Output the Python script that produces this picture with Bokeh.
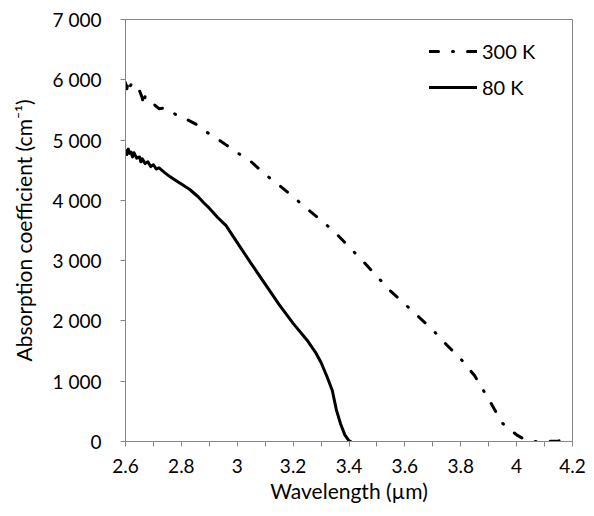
from bokeh.plotting import figure
from bokeh.models import FixedTicker, Range1d, Legend, LegendItem
from bokeh.embed import file_html
from bokeh.resources import INLINE

# 300 K series (wavelength in µm, absorption coefficient in cm^-1)
wl_300 = [2.600, 2.605, 2.610, 2.615, 2.620, 2.630, 2.640, 2.650, 2.660, 2.665,
          2.670, 2.680, 2.690, 2.700, 2.710, 2.720, 2.740, 2.760, 2.780, 2.800,
          2.820, 2.850, 2.880, 2.920, 2.960, 3.000, 3.050, 3.100, 3.150, 3.200,
          3.250, 3.300, 3.350, 3.400, 3.450, 3.500, 3.550, 3.600, 3.650, 3.700,
          3.750, 3.800, 3.850, 3.900, 3.950, 4.000, 4.030, 4.050, 4.100, 4.150,
          4.200]
abs_300 = [5950, 5850, 5990, 5880, 5920, 5870, 5900, 5820, 5700, 5570,
           5720, 5700, 5690, 5600, 5560, 5520, 5530, 5500, 5420, 5370,
           5340, 5270, 5160, 5050, 4920, 4790, 4640, 4430, 4250, 4060,
           3860, 3670, 3470, 3230, 2990, 2740, 2490, 2280, 2065, 1850,
           1600, 1370, 1090, 700, 300, 110, 30, 0, 0, 10,
           50]

# 80 K series
wl_80 = [2.600, 2.605, 2.610, 2.615, 2.620, 2.625, 2.630, 2.640, 2.650, 2.655,
         2.660, 2.670, 2.680, 2.690, 2.700, 2.710, 2.720, 2.740, 2.760, 2.780,
         2.800, 2.830, 2.860, 2.880, 2.900, 2.930, 2.960, 3.000, 3.050, 3.100,
         3.150, 3.200, 3.250, 3.280, 3.300, 3.320, 3.340, 3.355, 3.370, 3.385,
         3.400, 3.405]
abs_80 = [4830, 4760, 4850, 4780, 4800, 4720, 4790, 4700, 4720, 4640,
          4690, 4610, 4640, 4560, 4590, 4520, 4540, 4460, 4390, 4330,
          4270, 4180, 4060, 3960, 3870, 3715, 3580, 3300, 2950, 2610,
          2270, 1960, 1680, 1480, 1310, 1090, 850, 520, 290, 110,
          10, 0]

x_ticks = [2.6, 2.8, 3.0, 3.2, 3.4, 3.6, 3.8, 4.0, 4.2]
x_minor = [2.7, 2.9, 3.1, 3.3, 3.5, 3.7, 3.9, 4.1]
x_labels = ["2.6", "2.8", "3", "3.2", "3.4", "3.6", "3.8", "4", "4.2"]
y_ticks = [0, 1000, 2000, 3000, 4000, 5000, 6000, 7000]
y_labels = ["0", "1 000", "2 000", "3 000", "4 000", "5 000", "6 000", "7 000"]
series_names = ["300 K", "80 K"]

FONT = "Lato"
GREY = "#868686"

p = figure(width=586, height=508, output_backend="svg", toolbar_location=None,
           x_range=Range1d(2.6, 4.2), y_range=Range1d(0, 7000),
           min_border_left=125, min_border_right=14, min_border_top=19,
           min_border_bottom=67)
p.grid.visible = False
p.outline_line_color = GREY
p.outline_line_width = 1
p.background_fill_color = "white"
p.border_fill_color = "white"

xa = p.xaxis[0]
xa.ticker = FixedTicker(ticks=x_ticks, minor_ticks=x_minor)
xa.major_label_overrides = {t: l for t, l in zip(x_ticks, x_labels)}
xa.axis_line_color = GREY
xa.major_tick_line_color = GREY
xa.minor_tick_line_color = GREY
xa.major_tick_out = 5
xa.major_tick_in = 0
xa.minor_tick_out = 5
xa.minor_tick_in = 0
xa.major_label_standoff = 12
xa.major_label_text_font = FONT
xa.major_label_text_font_size = "19px"
xa.major_label_text_color = "black"
xa.axis_label = "Wavelength (µm)"
xa.axis_label_text_font = FONT
xa.axis_label_text_font_size = "21px"
xa.axis_label_text_font_style = "normal"
xa.axis_label_standoff = 2
xa.axis_label_text_color = "black"

ya = p.yaxis[0]
ya.ticker = FixedTicker(ticks=y_ticks, minor_ticks=[])
ya.major_label_overrides = {t: l for t, l in zip(y_ticks, y_labels)}
ya.axis_line_color = GREY
ya.major_tick_line_color = GREY
ya.major_tick_out = 5
ya.major_tick_in = 0
ya.minor_tick_line_color = None
ya.major_label_standoff = 19
ya.major_label_text_font = FONT
ya.major_label_text_font_size = "19px"
ya.major_label_text_color = "black"
ya.axis_label = "Absorption coefficient (cm⁻¹)"
ya.axis_label_text_font = FONT
ya.axis_label_text_font_size = "21px"
ya.axis_label_text_font_style = "normal"
ya.axis_label_standoff = 14
ya.axis_label_text_color = "black"

r300 = p.line(wl_300, abs_300, line_color="black", line_width=3,
              line_dash="9 14 1 14", line_cap="round", line_join="round")
r80 = p.line(wl_80, abs_80, line_color="black", line_width=3,
             line_join="round", line_cap="round")

legend = Legend(items=[LegendItem(label=series_names[0], renderers=[r300]),
                       LegendItem(label=series_names[1], renderers=[r80])],
                location=(304, 342), orientation="vertical",
                border_line_alpha=0, background_fill_alpha=0,
                glyph_width=48, glyph_height=20, label_height=20,
                spacing=12, padding=0, margin=0, label_standoff=5,
                label_text_font=FONT, label_text_font_size="20px",
                label_text_color="black")
p.add_layout(legend)

open("out.html", "w").write(file_html(p, INLINE))
